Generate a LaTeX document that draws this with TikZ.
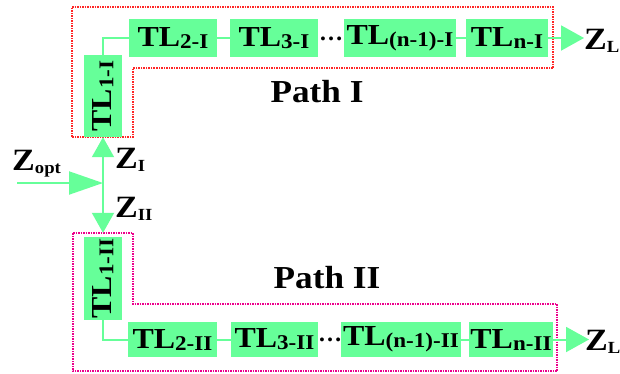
\documentclass[tikz,border=0pt]{standalone}
\usepackage{fontspec}
\setmainfont{Liberation Serif}
\usetikzlibrary{arrows.meta}
\definecolor{tlgreen}{HTML}{66FF99}
\newcommand{\hs}[1]{\scalebox{1.1}[1]{#1}}
\newcommand{\sbx}[1]{\raisebox{-2pt}{\fontsize{21}{21}\selectfont #1}}
\newcommand{\zsb}[1]{\raisebox{-3pt}{\fontsize{17}{17}\selectfont #1}}
\newcommand{\tl}[1]{\hs{TL\sbx{#1}}}
\begin{document}
\begin{tikzpicture}[x=1pt,y=-1pt,
  tlbox/.style={fill=tlgreen, draw=none, inner sep=0pt, minimum height=38pt, font=\bfseries\fontsize{29}{32}\selectfont},
  wire/.style={draw=tlgreen, line width=2pt},
  outarrow/.style={wire, -{Triangle[length=23pt,width=25pt]}},
  inarrow/.style={wire, -{Triangle[length=34pt,width=23pt]}},
  vertarrow/.style={wire, -{Triangle[length=20pt,width=22pt]}},
  zlbl/.style={font=\bfseries\fontsize{31}{34}\selectfont, inner sep=0pt, anchor=base west},
  pathlbl/.style={font=\bfseries\fontsize{32}{36}\selectfont, inner sep=0pt, anchor=base},
  dotslbl/.style={font=\bfseries\fontsize{24}{24}\selectfont, inner sep=0pt},
  pathI/.style={draw=red!85, densely dotted, line width=1.5pt},
  pathII/.style={draw=magenta, densely dotted, line width=1.5pt}]
\useasboundingbox (0,0) rectangle (620,373);

% boundaries
\draw[pathI] (72,7) -- (553,7) -- (553,68) -- (133,68) -- (133,137) -- (72,137) -- cycle;
\draw[pathII] (73,233) -- (133,233) -- (133,304) -- (557,304) -- (557,371) -- (73,371) -- cycle;

% Path I
\node[tlbox, minimum width=38pt, minimum height=82pt] (tl1I) at (103,96) {\rotatebox{90}{\tl{1-I}}};
\node[tlbox, minimum width=88pt] (tl2I) at (173,38) {\tl{2-I}};
\node[tlbox, minimum width=88pt] (tl3I) at (274,38) {\tl{3-I}};
\node[dotslbl] (dI) at (331,39) {…};
\node[tlbox, minimum width=112pt] (tln1I) at (400,38) {\tl{(n-1)-I}};
\node[tlbox, minimum width=82pt] (tlnI) at (507,38) {\tl{n-I}};
\coordinate (zLIend) at (584,38);
\node[zlbl] (zLI) at (584,49) {\hs{Z\zsb{L}}};

\draw[wire] (tl1I.north) |- (tl2I.west);
\draw[wire] (tl2I.east) -- (tl3I.west);
\draw[wire] (tln1I.east) -- (tlnI.west);
\draw[outarrow] (tlnI.east) -- (zLIend);
\node[pathlbl] (pI) at (317,102) {\hs{Path I}};

% input
\coordinate (zin) at (17,183);
\coordinate (junc) at (103,183);
\node[zlbl] (zopt) at (12,170) {\hs{Z\zsb{opt}}};
\node[zlbl] (zI) at (115,168) {\hs{Z\zsb{I}}};
\node[zlbl] (zII) at (115,217) {\hs{Z\zsb{II}}};
\draw[inarrow] (zin) -- (junc);

% Path II
\node[tlbox, minimum width=38pt, minimum height=83pt] (tl1II) at (103,278.5) {\rotatebox{90}{\tl{1-II}}};
\node[tlbox, minimum width=89pt, minimum height=35pt] (tl2II) at (172.5,339.5) {\tl{2-II}};
\node[tlbox, minimum width=87pt, minimum height=35pt] (tl3II) at (274.5,339.5) {\tl{3-II}};
\node[dotslbl] (dII) at (330,340) {…};
\node[tlbox, minimum width=120pt, minimum height=35pt] (tln1II) at (401,339.5) {\tl{(n-1)-II}};
\node[tlbox, minimum width=84pt, minimum height=35pt] (tlnII) at (511,339.5) {\tl{n-II}};
\coordinate (zLIIend) at (589,339.5);
\node[zlbl] (zLII) at (585,350) {\hs{Z\zsb{L}}};

\draw[wire] (tl1II.south) |- (tl2II.west);
\draw[wire] (tl2II.east) -- (tl3II.west);
\draw[wire] (tln1II.east) -- (tlnII.west);
\draw[outarrow] (tlnII.east) -- (zLIIend);
\node[pathlbl] (pII) at (327,288) {\hs{Path II}};

% splits
\draw[vertarrow] (junc) -- (tl1I.south);
\draw[vertarrow] (junc) -- ([yshift=4pt]tl1II.north);
\end{tikzpicture}
\end{document}
